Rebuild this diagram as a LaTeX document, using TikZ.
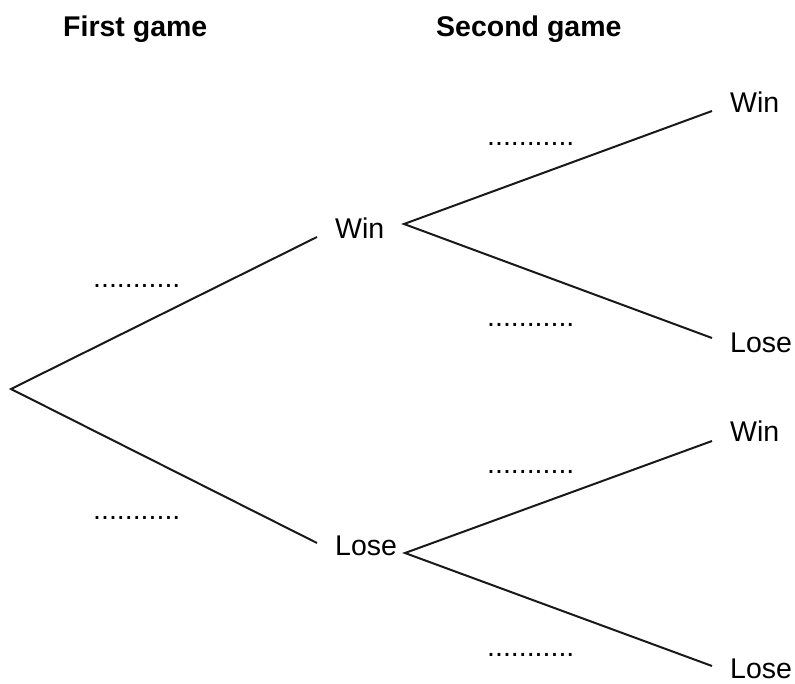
\documentclass[tikz,border=0pt]{standalone}
\usepackage{fontspec}
\setmainfont{Liberation Sans}
\begin{document}
\begin{tikzpicture}[x=1pt,y=-1pt,
  lbl/.style={anchor=base west,inner sep=0pt,font=\fontsize{28.5}{34}\selectfont},
  head/.style={lbl,font=\fontsize{28.5}{34}\selectfont\bfseries},
  branch/.style={line width=2pt,line join=miter,black!90}]
\useasboundingbox (0,0) rectangle (795,683);
% headings
\node[head] (h1) at (63,36) {First game};
\node[head] (h2) at (436,36) {Second game};
% branch points
\coordinate (root) at (11,389);
\coordinate (a1) at (317,237);
\coordinate (a2) at (317,543);
\coordinate (b1) at (404,224);
\coordinate (b2) at (405,553);
\coordinate (c1) at (712,111);
\coordinate (c2) at (712,338);
\coordinate (c3) at (712,441);
\coordinate (c4) at (712,666);
% outcome labels
\node[lbl] (win1) at (335,238) {Win};
\node[lbl] (lose1) at (335,555) {Lose};
\node[lbl] (win2) at (730,112) {Win};
\node[lbl] (lose2) at (730,352) {Lose};
\node[lbl] (win3) at (730,441) {Win};
\node[lbl] (lose3) at (730,678) {Lose};
% probability blanks
\node[lbl] (p1) at (93,287) {...........};
\node[lbl] (p2) at (93,519) {...........};
\node[lbl] (p3) at (487,145) {...........};
\node[lbl] (p4) at (487,326) {...........};
\node[lbl] (p5) at (487,473) {...........};
\node[lbl] (p6) at (487,656) {...........};
% branches
\draw[branch] (a1) -- (root) -- (a2);
\draw[branch] (c1) -- (b1) -- (c2);
\draw[branch] (c3) -- (b2) -- (c4);
\end{tikzpicture}
\end{document}
